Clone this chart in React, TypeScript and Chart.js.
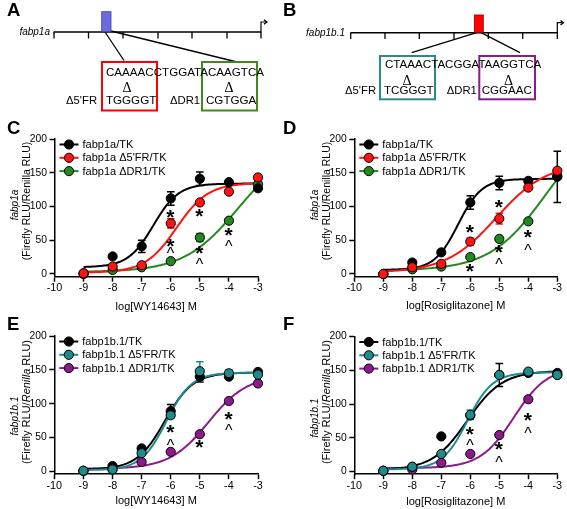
import React, { useEffect, useRef } from "react";
import { Chart, registerables } from "chart.js";

Chart.register(...registerables);

const FONT = "'Liberation Sans', Arial, Helvetica, sans-serif";
const SERIF = "'Liberation Serif', 'Times New Roman', serif";

// ---------- shared axes ----------
const doses = [-9, -8, -7, -6, -5, -4, -3];
const xTickValues = [-10, -9, -8, -7, -6, -5, -4, -3];
const yTickValues = [0, 50, 100, 150, 200];

// ---------- colours ----------
const BLACK = "#000000";
const RED = "#ff1414";
const GREEN = "#23891f";
const TEAL = "#1f8c8c";
const PURPLE = "#8c1a8c";

// ---------- Panel C : fabp1a, WY14643 ----------
const cLabels = ["fabp1a/TK", "fabp1a Δ5'FR/TK", "fabp1a ΔDR1/TK"];
const cTK = [1, 26, 41, 112, 141, 136, 127];
const cTKErr = [0, 0, 9, 10, 10, 2, 0];
const c5FR = [1, 11, 13, 75, 106, 122, 143];
const c5FRErr = [0, 0, 0, 7, 0, 0, 0];
const cDR1 = [0, 6, 10, 19, 54, 79, 133];
const cDR1Err = [0, 0, 0, 0, 6, 0, 0];
// fitted curve parameters: [bottom, top, logEC50, hill]
const cTKFit = [10, 134, -6.6, 1.0];
const c5FRFit = [2, 135, -5.8, 0.8];
const cDR1Fit = [3, 190, -3.7, 0.47];
const cMarks: [number, number, string][] = [
  [-6, 89, "*"], [-6, 46, "*"], [-6, 35, "^"],
  [-5, 91, "*"], [-5, 36, "*"], [-5, 19, "^"],
  [-4, 62, "*"], [-4, 46, "^"],
];

// ---------- Panel D : fabp1a, Rosiglitazone ----------
const dLabels = ["fabp1a/TK", "fabp1a Δ5'FR/TK", "fabp1a ΔDR1/TK"];
const dTK = [0, 17, 32, 106, 135, 138, 144];
const dTKErr = [0, 0, 0, 10, 10, 3, 38];
const d5FR = [0, 10, 15, 48, 82, 128, 153];
const d5FRErr = [0, 0, 0, 5, 8, 0, 0];
const dDR1 = [0, 7, 11, 25, 52, 78, 145];
const dDR1Err = [0, 0, 0, 0, 0, 0, 0];
const dTKFit = [6, 141, -6.42, 1.07];
const d5FRFit = [2, 165, -5.1, 0.5];
const dDR1Fit = [5, 230, -3.4, 0.45];
const dMarks: [number, number, string][] = [
  [-6, 67, "*"], [-6, 9, "*"],
  [-5, 103, "*"], [-5, 37, "*"], [-5, 19, "^"],
  [-4, 59, "*"], [-4, 40, "^"],
];

// ---------- Panel E : fabp1b.1, WY14643 ----------
const eLabels = ["fabp1b.1/TK", "fabp1b.1 Δ5'FR/TK", "fabp1b.1 ΔDR1/TK"];
const eTK = [1, 8, 34, 89, 140, 140, 147];
const eTKErr = [0, 0, 3, 10, 8, 0, 0];
const e5FR = [1, 3, 27, 83, 148, 145, 143];
const e5FRErr = [0, 0, 0, 0, 14, 5, 0];
const eDR1 = [1, 3, 14, 29, 55, 104, 130];
const eDR1Err = [0, 0, 0, 0, 0, 0, 0];
const eTKFit = [3, 146, -6.2, 0.9];
const e5FRFit = [2, 146, -6.15, 1.0];
const eDR1Fit = [4, 142, -4.7, 0.65];
const eMarks: [number, number, string][] = [
  [-6, 63, "*"], [-6, 43, "^"],
  [-5, 40, "*"],
  [-4, 82, "*"], [-4, 65, "^"],
];

// ---------- Panel F : fabp1b.1, Rosiglitazone ----------
const fLabels = ["fabp1b.1/TK", "fabp1b.1 Δ5'FR/TK", "fabp1b.1 ΔDR1/TK"];
const fTK = [1, 7, 52, 83, 143, 146, 146];
const fTKErr = [0, 0, 0, 0, 17, 0, 0];
const f5FR = [1, 7, 26, 84, 143, 148, 143];
const f5FRErr = [0, 0, 0, 7, 0, 0, 0];
const fDR1 = [1, 3, 13, 26, 54, 107, 143];
const fDR1Err = [0, 0, 0, 0, 0, 0, 0];
const fTKFit = [2, 149, -6.1, 0.72];
const f5FRFit = [3, 147, -6.1, 1.0];
const fDR1Fit = [5, 155, -4.5, 0.75];
const fMarks: [number, number, string][] = [
  [-6, 60, "*"], [-6, 43, "^"],
  [-5, 38, "*"], [-5, 19, "^"],
  [-4, 81, "*"], [-4, 62, "^"],
];

// ---------- helpers ----------
type Series = {
  label: string;
  color: string;
  values: number[];
  errors: number[];
  fit: number[];
  layer: number; // lower = drawn on top
};

type PanelCfg = {
  box: { x: number; y: number; w: number; h: number };
  padding: { left: number; top: number; right: number; bottom: number };
  series: Series[];
  marks: [number, number, string][];
  xTitle: string;
  titleGap: number;
};

function logistic(fit: number[], x: number) {
  const [b, t, c, h] = fit;
  return b + (t - b) / (1 + Math.pow(10, (c - x) * h));
}

function fitCurve(fit: number[]) {
  const pts: { x: number; y: number }[] = [];
  for (let k = 0; k <= 120; k++) {
    const x = -9 + k * 0.05;
    pts.push({ x, y: logistic(fit, x) });
  }
  return pts;
}

function makeSeries(labels: string[], colors: string[], values: number[][], errors: number[][], fits: number[][], layers: number[]): Series[] {
  return labels.map((label, i) => ({
    label,
    color: colors[i],
    values: values[i],
    errors: errors[i],
    fit: fits[i],
    layer: layers[i],
  }));
}

const panels: PanelCfg[] = [
  {
    box: { x: 0, y: 115, w: 283, h: 200 },
    padding: { left: 14.5, top: 24, right: 25, bottom: 8.3 },
    series: makeSeries(cLabels, [BLACK, RED, GREEN], [cTK, c5FR, cDR1], [cTKErr, c5FRErr, cDR1Err], [cTKFit, c5FRFit, cDR1Fit], [1, 0, 2]),
    marks: cMarks,
    xTitle: "log[WY14643] M",
    titleGap: 29.8,
  },
  {
    box: { x: 283, y: 115, w: 284, h: 200 },
    padding: { left: 31.3, top: 24, right: 9.7, bottom: 8.3 },
    series: makeSeries(dLabels, [BLACK, RED, GREEN], [dTK, d5FR, dDR1], [dTKErr, d5FRErr, dDR1Err], [dTKFit, d5FRFit, dDR1Fit], [1, 0, 2]),
    marks: dMarks,
    xTitle: "log[Rosiglitazone] M",
    titleGap: 29,
  },
  {
    box: { x: 0, y: 312, w: 283, h: 197 },
    padding: { left: 14.3, top: 24, right: 25, bottom: 4.8 },
    series: makeSeries(eLabels, [BLACK, TEAL, PURPLE], [eTK, e5FR, eDR1], [eTKErr, e5FRErr, eDR1Err], [eTKFit, e5FRFit, eDR1Fit], [1, 0, 2]),
    marks: eMarks,
    xTitle: "log[WY14643] M",
    titleGap: 26.8,
  },
  {
    box: { x: 283, y: 312, w: 284, h: 197 },
    padding: { left: 31.3, top: 24.5, right: 9.7, bottom: 4.8 },
    series: makeSeries(fLabels, [BLACK, TEAL, PURPLE], [fTK, f5FR, fDR1], [fTKErr, f5FRErr, fDR1Err], [fTKFit, f5FRFit, fDR1Fit], [1, 0, 2]),
    marks: fMarks,
    xTitle: "log[Rosiglitazone] M",
    titleGap: 27.5,
  },
];

function Panel({ cfg }: { cfg: PanelCfg }) {
  const ref = useRef<HTMLCanvasElement>(null);

  useEffect(() => {
    if (!ref.current) return;
    const datasets: any[] = [];
    cfg.series.forEach((s) => {
      datasets.push({
        type: "line",
        data: fitCurve(s.fit),
        borderColor: s.color,
        borderWidth: 2,
        pointRadius: 0,
        pointHoverRadius: 0,
        fill: false,
        tension: 0,
        order: 20 + s.layer,
        clip: false,
      });
      datasets.push({
        type: "scatter",
        data: doses.map((x, j) => ({ x, y: s.values[j] })),
        pointRadius: 4.6,
        pointHoverRadius: 4.6,
        pointBackgroundColor: s.color,
        pointBorderColor: "#000",
        pointBorderWidth: 1,
        showLine: false,
        order: s.layer,
        clip: false,
      });
    });

    const extras = {
      id: "extras",
      beforeDatasetsDraw(chart: any) {
        const { ctx } = chart;
        const xs = chart.scales.x;
        const ys = chart.scales.y;
        ctx.save();
        ctx.lineWidth = 1.5;
        cfg.series.forEach((s) => {
          ctx.strokeStyle = s.color;
          s.errors.forEach((e, j) => {
            if (!e) return;
            const px = xs.getPixelForValue(doses[j]);
            const top = ys.getPixelForValue(s.values[j] + e);
            const bot = ys.getPixelForValue(s.values[j] - e);
            ctx.beginPath();
            ctx.moveTo(px, top);
            ctx.lineTo(px, bot);
            ctx.moveTo(px - 3.8, top);
            ctx.lineTo(px + 3.8, top);
            ctx.moveTo(px - 3.8, bot);
            ctx.lineTo(px + 3.8, bot);
            ctx.stroke();
          });
        });
        ctx.restore();
      },
      afterDatasetsDraw(chart: any) {
        const { ctx, chartArea } = chart;
        const xs = chart.scales.x;
        const ys = chart.scales.y;
        ctx.save();
        // significance marks
        ctx.fillStyle = "#000";
        ctx.textAlign = "left";
        ctx.textBaseline = "alphabetic";
        cfg.marks.forEach(([mx, my, t]) => {
          ctx.font = t === "*" ? `bold 21px ${FONT}` : `16px ${FONT}`;
          const m = ctx.measureText(t);
          const px = xs.getPixelForValue(mx);
          const py = ys.getPixelForValue(my);
          const bx = px - (m.actualBoundingBoxRight - m.actualBoundingBoxLeft) / 2;
          const by = py + (m.actualBoundingBoxAscent - m.actualBoundingBoxDescent) / 2;
          ctx.fillText(t, bx, by);
        });
        // legend
        ctx.font = `11px ${FONT}`;
        ctx.textBaseline = "middle";
        cfg.series.forEach((s, i) => {
          const ly = chartArea.top + 5.5 + i * 13.3;
          const lx = chartArea.left;
          ctx.strokeStyle = s.color;
          ctx.lineWidth = 2;
          ctx.beginPath();
          ctx.moveTo(lx + 5, ly);
          ctx.lineTo(lx + 24, ly);
          ctx.stroke();
          ctx.beginPath();
          ctx.arc(lx + 14.5, ly, 4.6, 0, Math.PI * 2);
          ctx.fillStyle = s.color;
          ctx.fill();
          ctx.lineWidth = 1;
          ctx.strokeStyle = "#000";
          ctx.stroke();
          ctx.fillStyle = "#000";
          ctx.fillText(s.label, lx + 28, ly + 0.5);
        });
        // x title
        ctx.font = `11px ${FONT}`;
        ctx.textAlign = "center";
        ctx.textBaseline = "middle";
        ctx.fillText(cfg.xTitle, (chartArea.left + chartArea.right) / 2, chartArea.bottom + cfg.titleGap);
        ctx.restore();
      },
    };

    const axisCommon = {
      grid: {
        drawOnChartArea: false,
        drawTicks: true,
        tickLength: 5,
        tickWidth: 1.5,
        tickColor: "#000",
        color: "#000",
      },
      border: { display: true, color: "#000", width: 1.5 },
    };

    const chart = new Chart(ref.current, {
      type: "scatter",
      data: { datasets },
      options: {
        animation: false,
        responsive: false,
        maintainAspectRatio: false,
        events: [],
        layout: { padding: cfg.padding },
        plugins: {
          legend: { display: false },
          tooltip: { enabled: false },
          title: { display: false },
        },
        scales: {
          x: {
            type: "linear",
            min: -10,
            max: -3,
            afterBuildTicks: (ax: any) => {
              ax.ticks = xTickValues.map((v) => ({ value: v }));
            },
            afterFit: (ax: any) => {
              ax.height = 30;
            },
            ticks: {
              color: "#000",
              font: { family: FONT, size: 10.8 },
              padding: 0,
              maxRotation: 0,
              autoSkip: false,
            },
            ...axisCommon,
          },
          y: {
            type: "linear",
            min: -4,
            max: 200,
            afterBuildTicks: (ax: any) => {
              ax.ticks = yTickValues.map((v) => ({ value: v }));
            },
            afterFit: (ax: any) => {
              ax.width = 40;
            },
            ticks: {
              color: "#000",
              font: { family: FONT, size: 10.3 },
              padding: 2.5,
              autoSkip: false,
            },
            ...axisCommon,
          },
        },
      } as any,
      plugins: [extras],
    });
    return () => chart.destroy();
  }, [cfg]);

  return (
    <canvas
      ref={ref}
      width={cfg.box.w}
      height={cfg.box.h}
      style={{ position: "absolute", left: cfg.box.x, top: cfg.box.y, width: cfg.box.w, height: cfg.box.h }}
    />
  );
}

const aTicks = [54, 88.5, 123, 158, 192, 227, 261];
const bTicks = [350.7, 385, 419.3, 454, 488.3, 522.7, 557.3];

function YTitle({ x1, y1, x2, y2, name, size2, italicRenilla }: { x1: number; y1: number; x2: number; y2: number; name: string; size2: number; italicRenilla: boolean }) {
  return (
    <g fontFamily={FONT}>
      <text transform={`translate(${x1},${y1}) rotate(-90)`} textAnchor="middle" dominantBaseline="central" fontSize={10} fontStyle="italic">
        {name}
      </text>
      <text transform={`translate(${x2},${y2}) rotate(-90)`} textAnchor="middle" dominantBaseline="central" fontSize={size2}>
        (Firefly RLU/{italicRenilla ? <tspan fontStyle="italic">Renilla</tspan> : "Renilla"} RLU)
      </text>
    </g>
  );
}

function Overlay() {
  const seq = { fontSize: 11.6, fontFamily: FONT };
  const lab = { fontSize: 11.3, fontFamily: FONT };
  const delta = { fontSize: 14, fontFamily: SERIF, textAnchor: "middle" as const };
  const letter = { fontSize: 18.5, fontWeight: "bold" as const, fontFamily: FONT };
  return (
    <svg width={567} height={509} style={{ position: "absolute", left: 0, top: 0, pointerEvents: "none" }}>
      {/* panel letters */}
      <text x={7} y={15.5} {...letter}>A</text>
      <text x={283} y={15.5} {...letter}>B</text>
      <text x={7} y={134} {...letter}>C</text>
      <text x={283} y={134} {...letter}>D</text>
      <text x={7} y={330} {...letter}>E</text>
      <text x={283} y={330} {...letter}>F</text>

      {/* Diagram A */}
      <text x={50} y={35} fontSize={10} fontStyle="italic" fontFamily={FONT} textAnchor="end">fabp1a</text>
      <line x1={53.5} y1={32} x2={261} y2={32} stroke="#000" strokeWidth={1.5} />
      {aTicks.map((x) => (
        <line key={x} x1={x} y1={32} x2={x} y2={38.5} stroke="#000" strokeWidth={1.3} />
      ))}
      <polyline points="261,32 261,22 266,22" fill="none" stroke="#000" strokeWidth={1.2} />
      <polyline points="264,19.8 267,22 264,24.2" fill="none" stroke="#000" strokeWidth={1.2} />
      <line x1={105} y1={32} x2={124} y2={60.5} stroke="#000" strokeWidth={1.3} />
      <line x1={111} y1={31} x2={235} y2={61.5} stroke="#000" strokeWidth={1.3} />
      <rect x={101.7} y={11.7} width={9.3} height={20} fill="#6b6bdf" stroke="#3c3ca0" strokeWidth={0.8} />
      <rect x={102} y={62} width={55} height={48.5} fill="none" stroke="#ff0000" strokeWidth={2} />
      <rect x={202} y={62} width={55} height={48.5} fill="none" stroke="#3e8a1c" strokeWidth={2} />
      <text x={106} y={76} {...seq}>CAAAACCTGGATACAAGTCA</text>
      <text x={127} y={92} {...delta}>Δ</text>
      <text x={229} y={92} {...delta}>Δ</text>
      <text x={66} y={103.5} {...lab}>Δ5'FR</text>
      <text x={106} y={103.5} {...seq}>TGGGGT</text>
      <text x={170} y={103.5} {...lab}>ΔDR1</text>
      <text x={206} y={103.5} {...seq}>CGTGGA</text>

      {/* Diagram B */}
      <text x={345} y={36} fontSize={10} fontStyle="italic" fontFamily={FONT} textAnchor="end">fabp1b.1</text>
      <line x1={350.5} y1={32.7} x2={558} y2={32.7} stroke="#000" strokeWidth={1.5} />
      {bTicks.map((x) => (
        <line key={x} x1={x} y1={32.7} x2={x} y2={39} stroke="#000" strokeWidth={1.3} />
      ))}
      <polyline points="557.3,32.7 557.3,22.7 562.5,22.7" fill="none" stroke="#000" strokeWidth={1.2} />
      <polyline points="560.5,20.5 563.5,22.7 560.5,24.9" fill="none" stroke="#000" strokeWidth={1.2} />
      <line x1={476.7} y1={32.7} x2={411.7} y2={52.7} stroke="#000" strokeWidth={1.3} />
      <line x1={481} y1={32.7} x2={520} y2={52.7} stroke="#000" strokeWidth={1.3} />
      <rect x={474.3} y={15} width={9} height={17.7} fill="#ff0000" stroke="#8a0000" strokeWidth={0.8} />
      <rect x={380} y={56} width={55} height={43.3} fill="none" stroke="#2a8a8a" strokeWidth={2} />
      <rect x={479.3} y={56} width={55.7} height={43.3} fill="none" stroke="#8b1a8b" strokeWidth={2} />
      <text x={385} y={67.5} {...seq}>CTAAACTACGGATAAGGTCA</text>
      <text x={407} y={85} {...delta}>Δ</text>
      <text x={508.5} y={85} {...delta}>Δ</text>
      <text x={345} y={94} {...lab}>Δ5'FR</text>
      <text x={384} y={94} {...seq}>TCGGGT</text>
      <text x={446.7} y={94} {...lab}>ΔDR1</text>
      <text x={481.7} y={94} {...seq}>CGGAAC</text>

      {/* y axis titles */}
      <YTitle x1={14.5} y1={205} x2={25.5} y2={201} name="fabp1a" size2={10.5} italicRenilla={false} />
      <YTitle x1={314.5} y1={205} x2={325.5} y2={201} name="fabp1a" size2={10.5} italicRenilla={false} />
      <YTitle x1={14} y1={416} x2={26} y2={402} name="fabp1b.1" size2={11} italicRenilla={true} />
      <YTitle x1={314} y1={418} x2={326} y2={402} name="fabp1b.1" size2={11} italicRenilla={true} />
    </svg>
  );
}

export default function App() {
  return (
    <div style={{ position: "absolute", left: 0, top: 0, width: 567, height: 509, background: "#fff", overflow: "hidden" }}>
      {panels.map((p, i) => (
        <Panel key={i} cfg={p} />
      ))}
      <Overlay />
    </div>
  );
}
